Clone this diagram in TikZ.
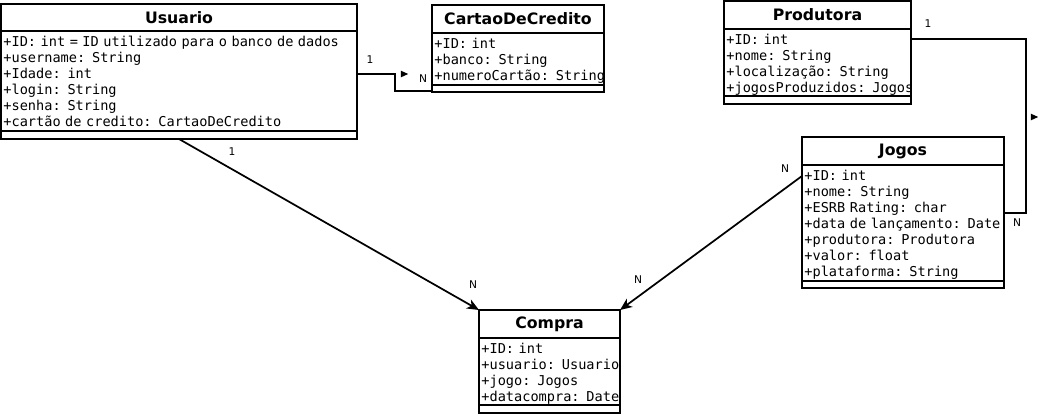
\documentclass[tikz,border=0pt]{standalone}
\usepackage{fontspec}
\setmainfont{DejaVu Sans}
\setmonofont{DejaVu Sans Mono}
\usepackage{tikz}
\usetikzlibrary{shapes.geometric, arrows.meta, positioning}
\tikzstyle{link} = [line width=1.3pt]
\tikzstyle{arrow} = [line width=1.3pt, -{Stealth[length=9pt, width=7.5pt, inset=2.5pt]}]
\tikzstyle{classname} = [draw=black, line width=1.3pt, inner sep=0pt, outer sep=0pt, text centered, font=\fontsize{11.8}{14}\selectfont\bfseries]
\tikzstyle{attrs} = [draw=black, line width=1.3pt, inner xsep=1.8pt, inner ysep=0pt, outer sep=0pt, align=left, font=\fontsize{10.2}{12}\selectfont\ttfamily]
\tikzstyle{methods} = [draw=black, line width=1.3pt, inner sep=0pt, outer sep=0pt]
\tikzstyle{mult} = [inner sep=0pt, font=\fontsize{8}{9}\selectfont]
\tikzstyle{dirmark} = [isosceles triangle, isosceles triangle stretches, fill=black, inner sep=0pt, minimum width=5pt, minimum height=5.5pt]

\begin{document}
\begin{tikzpicture}[x=0.75pt, y=-0.75pt]
\useasboundingbox (0,0) rectangle (1038,415);

% Classes
\node (usuario) [classname, minimum width=267pt, minimum height=20.25pt] at (179,17.5) {Usuario};
\node (usuarioAttr) [attrs, text width=263.4pt, minimum height=75pt, below=0pt of usuario] {\begin{tabular}{@{}l@{}}
+ID: int = ID utilizado para o banco de dados\\
+username: String\\
+Idade: int\\
+login: String\\
+senha: String\\
+cartão de credito: CartaoDeCredito\\[-4pt]
\end{tabular}};
\node (usuarioOps) [methods, minimum width=267pt, minimum height=6pt, below=0pt of usuarioAttr] {};

\node (cartao) [classname, minimum width=129pt, minimum height=21pt] at (518,19) {CartaoDeCredito};
\node (cartaoAttr) [attrs, text width=125.4pt, minimum height=39pt, below=0pt of cartao] {\begin{tabular}{@{}l@{}}
+ID: int\\
+banco: String\\
+numeroCartão: String\\[-4pt]
\end{tabular}};
\node (cartaoOps) [methods, minimum width=129pt, minimum height=5.25pt, below=0pt of cartaoAttr] {};

\node (produtora) [classname, minimum width=140.25pt, minimum height=21pt] at (817.5,15) {Produtora};
\node (produtoraAttr) [attrs, text width=136.65pt, minimum height=50.25pt, below=0pt of produtora] {\begin{tabular}{@{}l@{}}
+ID: int\\
+nome: String\\
+localização: String\\
+jogosProduzidos: Jogos\\[-4pt]
\end{tabular}};
\node (produtoraOps) [methods, minimum width=140.25pt, minimum height=6pt, below=0pt of produtoraAttr] {};

\node (jogos) [classname, minimum width=151.5pt, minimum height=21pt] at (903,151) {Jogos};
\node (jogosAttr) [attrs, text width=147.9pt, minimum height=87pt, below=0pt of jogos] {\begin{tabular}{@{}l@{}}
+ID: int\\
+nome: String\\
+ESRB Rating: char\\
+data de lançamento: Date\\
+produtora: Produtora\\
+valor: float\\
+plataforma: String\\[-4pt]
\end{tabular}};
\node (jogosOps) [methods, minimum width=151.5pt, minimum height=5.25pt, below=0pt of jogosAttr] {};

\node (compra) [classname, minimum width=105.75pt, minimum height=21pt] at (549.5,324) {Compra};
\node (compraAttr) [attrs, text width=102.15pt, minimum height=50.25pt, below=0pt of compra] {\begin{tabular}{@{}l@{}}
+ID: int\\
+usuario: Usuario\\
+jogo: Jogos\\
+datacompra: Date\\[-4pt]
\end{tabular}};
\node (compraOps) [methods, minimum width=105.75pt, minimum height=6pt, below=0pt of compraAttr] {};

% Relationships
\draw [link] ([yshift=5.25pt]usuarioAttr.east) node[mult, xshift=9.75pt, yshift=10.5pt] {1}
  -- ++(38,0) |- ([yshift=0.6pt]cartaoOps.south west) node[mult, xshift=-6.75pt, yshift=9.75pt] {N};
\node (dirCartao) [dirmark] at (403,74) {};

\draw [link] ([yshift=17.625pt]produtoraAttr.east) node[mult, xshift=12.75pt, yshift=11.25pt] {1}
  -- ++(115,0) |- ([yshift=7.5pt]jogosAttr.east) node[mult, xshift=9.75pt, yshift=-7.5pt] {N};
\node (dirJogos) [dirmark] at (1033,117) {};

\draw [arrow] (usuarioOps.south) node[mult, xshift=39.75pt, yshift=-9.75pt] {1}
  -- (compra.north west) node[mult, xshift=-4.5pt, yshift=18.75pt] {N};
\draw [arrow] ([yshift=35.25pt]jogosAttr.west) node[mult, xshift=-12.75pt, yshift=5.25pt] {N}
  -- (compra.north east) node[mult, xshift=13.5pt, yshift=22.5pt] {N};

\end{tikzpicture}
\end{document}
